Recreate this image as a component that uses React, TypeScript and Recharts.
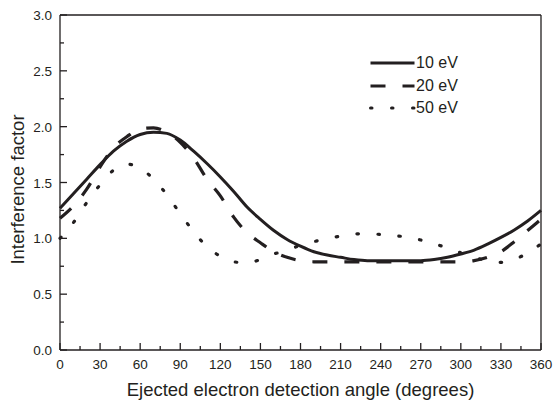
import React from "react";
import {
  LineChart,
  Line,
  XAxis,
  YAxis,
  ReferenceLine,
  Legend,
} from "recharts";

const angles = [
  0, 10, 20, 30, 40, 50, 60, 70, 80, 90, 100, 110, 120, 130, 140, 150, 160, 170,
  180, 190, 200, 210, 220, 230, 240, 250, 260, 270, 280, 290, 300, 310, 320,
  330, 340, 350, 360,
];

const ev10 = [
  1.27, 1.4, 1.53, 1.66, 1.78, 1.87, 1.93, 1.95, 1.94, 1.88, 1.78, 1.67, 1.55,
  1.42, 1.28, 1.17, 1.07, 0.99, 0.93, 0.88, 0.85, 0.83, 0.81, 0.8, 0.8, 0.8,
  0.8, 0.8, 0.81, 0.83, 0.86, 0.895, 0.948, 1.008, 1.075, 1.155, 1.25,
];

const ev20 = [
  1.18, 1.29, 1.44, 1.64, 1.81, 1.91, 1.98, 1.99, 1.95, 1.86, 1.72, 1.53, 1.38,
  1.19, 1.05, 0.96, 0.88, 0.83, 0.8, 0.79, 0.79, 0.79, 0.79, 0.79, 0.79, 0.79,
  0.79, 0.79, 0.79, 0.79, 0.79, 0.8, 0.83, 0.88, 0.97, 1.07, 1.17,
];

const ev50 = [
  1.0, 1.14, 1.32, 1.48, 1.61, 1.665, 1.63, 1.53, 1.39, 1.22, 1.06, 0.925, 0.84,
  0.79, 0.78, 0.81, 0.86, 0.89, 0.94, 0.97, 1.0, 1.02, 1.04, 1.04, 1.035, 1.025,
  1.01, 0.985, 0.95, 0.915, 0.87, 0.83, 0.8, 0.785, 0.81, 0.87, 0.95,
];

const xTicks = [
  0, 15, 30, 45, 60, 75, 90, 105, 120, 135, 150, 165, 180, 195, 210, 225, 240,
  255, 270, 285, 300, 315, 330, 345, 360,
];
const yTicks = [0, 0.25, 0.5, 0.75, 1, 1.25, 1.5, 1.75, 2, 2.25, 2.5, 2.75, 3];

const seriesNames = ["10 eV", "20 eV", "50 eV"];

const INK = "#231f20";
const FONT = "'Liberation Sans', Arial, sans-serif";

const data = angles.map((a, i) => ({
  angle: a,
  e10: ev10[i],
  e20: ev20[i],
  e50: ev50[i],
}));

function XTick({ x, y, payload }: any) {
  const major = payload.value % 30 === 0;
  return (
    <g>
      <line x1={x} y1={y} x2={x} y2={y - (major ? 7 : 4)} stroke={INK} strokeWidth={1.3} />
      {major && (
        <text x={x} y={y + 19} textAnchor="middle" fontSize={13.5} fill={INK} fontFamily={FONT}>
          {payload.value}
        </text>
      )}
    </g>
  );
}

function YTick({ x, y, payload }: any) {
  const major = (payload.value * 2) % 1 === 0;
  return (
    <g>
      <line x1={x} y1={y} x2={x + (major ? 7 : 4)} y2={y} stroke={INK} strokeWidth={1.3} />
      {major && (
        <text x={x - 8} y={y + 5} textAnchor="end" fontSize={13.5} fill={INK} fontFamily={FONT}>
          {payload.value.toFixed(1)}
        </text>
      )}
    </g>
  );
}

function XTitle({ viewBox }: any) {
  return (
    <text
      x={viewBox.x + viewBox.width / 2}
      y={396}
      textAnchor="middle"
      fontSize={18.5}
      fill={INK}
      fontFamily={FONT}
    >
      Ejected electron detection angle (degrees)
    </text>
  );
}

function YTitle({ viewBox }: any) {
  const cy = viewBox.y + viewBox.height / 2 + 7;
  return (
    <text
      x={24}
      y={cy}
      transform={`rotate(-90 24 ${cy})`}
      textAnchor="middle"
      fontSize={18.5}
      fill={INK}
      fontFamily={FONT}
    >
      Interference factor
    </text>
  );
}

const legendDash = ["", "15 17", "1.5 19.5"];

function LegendBox() {
  return (
    <div style={{ fontFamily: FONT, fontSize: 16, color: INK }}>
      {seriesNames.map((n, i) => (
        <div key={n} style={{ display: "flex", alignItems: "center", height: 22.5 }}>
          <svg width={47} height={10}>
            <line
              x1={1.5}
              y1={5}
              x2={45.5}
              y2={5}
              stroke={INK}
              strokeWidth={3}
              strokeDasharray={legendDash[i]}
              strokeLinecap={i === 2 ? "round" : "butt"}
            />
          </svg>
          <span>{n}</span>
        </div>
      ))}
    </div>
  );
}

export default function App() {
  return (
    <div style={{ position: "absolute", left: 0, top: 0, background: "#fff" }}>
      <LineChart
        width={553}
        height={400}
        data={data}
        margin={{ top: 15, right: 12, bottom: 0, left: 0 }}
      >
        <XAxis
          dataKey="angle"
          type="number"
          domain={[0, 360]}
          ticks={xTicks}
          interval={0}
          tickSize={0}
          tickMargin={0}
          tickLine={false}
          tick={<XTick />}
          height={50}
          axisLine={{ stroke: INK, strokeWidth: 1.3 }}
          label={<XTitle />}
        />
        <YAxis
          type="number"
          domain={[0, 3]}
          ticks={yTicks}
          interval={0}
          tickSize={0}
          tickMargin={0}
          tickLine={false}
          tick={<YTick />}
          width={60}
          axisLine={{ stroke: INK, strokeWidth: 1.3 }}
          label={<YTitle />}
        />
        <ReferenceLine y={3} stroke={INK} strokeWidth={1.3} />
        <ReferenceLine x={360} stroke={INK} strokeWidth={1.3} />
        <Legend
          content={<LegendBox />}
          layout="vertical"
          verticalAlign="middle"
          align="center"
          wrapperStyle={{ top: 52, left: 369, width: 120 }}
        />
        <Line
          type="monotone"
          dataKey="e10"
          name={seriesNames[0]}
          stroke={INK}
          strokeWidth={3}
          dot={false}
          isAnimationActive={false}
        />
        <Line
          type="monotone"
          dataKey="e20"
          name={seriesNames[1]}
          stroke={INK}
          strokeWidth={3.2}
          strokeDasharray="15 17"
          dot={false}
          isAnimationActive={false}
        />
        <Line
          type="monotone"
          dataKey="e50"
          name={seriesNames[2]}
          stroke={INK}
          strokeWidth={3.2}
          strokeDasharray="1.5 19.5"
          strokeLinecap="round"
          dot={false}
          isAnimationActive={false}
        />
      </LineChart>
    </div>
  );
}
